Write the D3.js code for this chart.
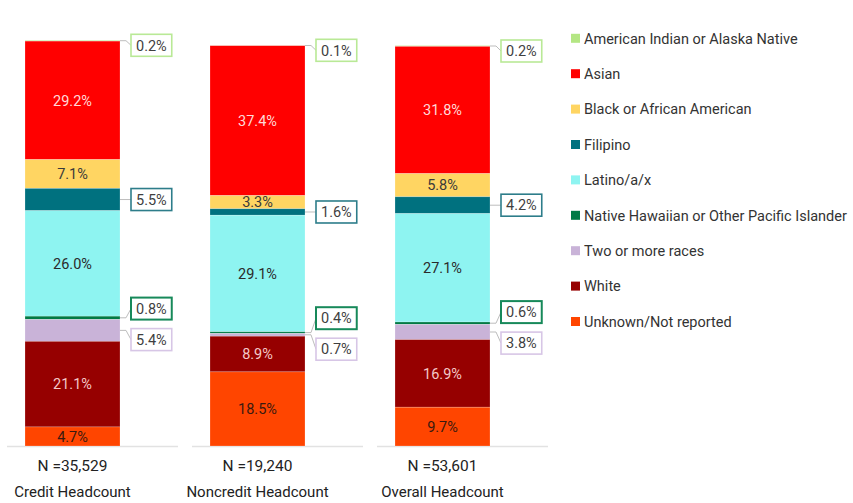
<!DOCTYPE html>
<html>
<head>
<meta charset="utf-8">
<script src="https://cdn.jsdelivr.net/npm/d3@7"></script>
<style>
  body { margin: 0; background: #fff; }
  svg { display: block; font-family: Roboto, "Noto Sans", sans-serif; }
</style>
</head>
<body>
<svg id="chart" width="853" height="503"></svg>
<script>
// bars, left to right
var categories = ["Credit Headcount", "Noncredit Headcount", "Overall Headcount"];
var headcounts = ["35,529", "19,240", "53,601"];

// race/ethnicity groups, top of the stack first
var groups = [
    "American Indian or Alaska Native",
    "Asian",
    "Black or African American",
    "Filipino",
    "Latino/a/x",
    "Native Hawaiian or Other Pacific Islander",
    "Two or more races",
    "White",
    "Unknown/Not reported"
];

// percentages, same order as groups
var creditPct    = [0.2, 29.2, 7.1, 5.5, 26.0, 0.8, 5.4, 21.1, 4.7];
var noncreditPct = [0.1, 37.4, 3.3, 1.6, 29.1, 0.4, 0.7, 8.9, 18.5];
var overallPct   = [0.2, 31.8, 5.8, 4.2, 27.1, 0.6, 3.8, 16.9, 9.7];
var seriesPct = [creditPct, noncreditPct, overallPct];

var colors = ["#b4e683", "#ff0000", "#ffd562", "#00717f", "#8ef4f1",
              "#007a45", "#c9b3d8", "#960000", "#ff4500"];
// groups that get a boxed callout instead of an inside label
var calloutBorder = {
    "American Indian or Alaska Native": "#b9e996",
    "Filipino": "#2d7d8a",
    "Native Hawaiian or Other Pacific Islander": "#17895a",
    "Two or more races": "#d7c6e6"
};
var insideText = {
    "Asian": "#ffd9d9",
    "Black or African American": "#3a3a3a",
    "Latino/a/x": "#2a2a2a",
    "White": "#f4c8c8",
    "Unknown/Not reported": "#3a1a10"
};

var FS = 14.5;
var svg = d3.select("#chart");
var BASE = 446;
var panelTop = [40.3, 45.3, 46]; // each bar was its own little chart

var x = d3.scaleBand()
    .domain(categories)
    .range([25, 490])
    .paddingInner(90 / 185);

categories.forEach(function(cat, ci) {
    var vals = seriesPct[ci];
    var y = d3.scaleLinear().domain([0, 100]).range([BASE, panelTop[ci]]);
    var x0 = x(cat), bw = x.bandwidth();

    // baseline
    svg.append("line")
        .attr("x1", x0 - 18).attr("x2", x0 + bw + 58)
        .attr("y1", BASE + 0.5).attr("y2", BASE + 0.5)
        .attr("stroke", "#e2e2e2").attr("stroke-width", 1.5);

    // stack from the bottom
    var segs = [];
    var cum = 0;
    for (var i = groups.length - 1; i >= 0; i--) {
        segs.unshift({group: groups[i], color: colors[i], v: vals[i], lo: cum, hi: cum + vals[i]});
        cum += vals[i];
    }

    var g = svg.append("g");
    g.selectAll("rect")
        .data(segs)
        .enter().append("rect")
        .attr("x", x0)
        .attr("width", bw)
        .attr("y", function(d) { return y(d.hi); })
        .attr("height", function(d) { return y(d.lo) - y(d.hi); })
        .attr("fill", function(d) { return d.color; })
        .attr("stroke", "rgba(255,255,255,0.35)")
        .attr("stroke-width", 0.6);

    g.selectAll("text.inside")
        .data(segs.filter(function(d) { return insideText[d.group]; }))
        .enter().append("text")
        .attr("class", "inside")
        .attr("x", x0 + bw / 2)
        .attr("y", function(d) { return (y(d.lo) + y(d.hi)) / 2; })
        .attr("dy", "0.36em")
        .attr("text-anchor", "middle")
        .attr("font-size", FS)
        .attr("fill", function(d) { return insideText[d.group]; })
        .text(function(d) { return d.v.toFixed(1) + "%"; });

    // callouts: start at segment middle, then push apart
    var items = segs.filter(function(d) { return calloutBorder[d.group]; })
        .map(function(d) { return {d: d, want: (y(d.lo) + y(d.hi)) / 2}; });
    var GAP = 31;
    var clusters = [];
    items.forEach(function(it) {
        var c = {items: [it], mean: it.want};
        c.start = c.mean;
        clusters.push(c);
        while (clusters.length > 1) {
            var a = clusters[clusters.length - 2], b = clusters[clusters.length - 1];
            if (a.start + a.items.length * GAP > b.start) {
                var merged = a.items.concat(b.items);
                var m = d3.mean(merged, function(q) { return q.want; });
                clusters.splice(-2, 2, {items: merged, mean: m, start: m - (merged.length - 1) * GAP / 2});
            } else break;
        }
    });
    var minY = panelTop[ci] + 5;
    clusters.forEach(function(c) {
        if (c.start < minY) c.start = minY;
        c.items.forEach(function(it, k) { it.at = c.start + k * GAP; });
    });

    var right = x0 + bw;
    items.forEach(function(it) {
        var label = it.d.v.toFixed(1) + "%";
        var bx = right + 11;
        var cg = svg.append("g");
        cg.append("path")
            .attr("d", "M" + right + "," + it.want + "H" + (right + 6) + "L" + bx + "," + it.at)
            .attr("fill", "none")
            .attr("stroke", "#bdbdbd")
            .attr("stroke-width", 1);
        var box = cg.append("rect")
            .attr("x", bx).attr("y", it.at - 11)
            .attr("height", 22)
            .attr("fill", "#fff")
            .attr("stroke", calloutBorder[it.d.group])
            .attr("stroke-width", it.d.group.indexOf("Hawaiian") >= 0 ? 2 : 1.6);
        var t = cg.append("text")
            .attr("x", bx + 5)
            .attr("y", it.at)
            .attr("dy", "0.36em")
            .attr("font-size", FS)
            .attr("fill", "#3f3f3f")
            .text(label);
        box.attr("width", t.node().getComputedTextLength() + 10);
    });

    // N and category label
    svg.append("text")
        .attr("x", x0 + bw / 2).attr("y", 471)
        .attr("text-anchor", "middle")
        .attr("font-size", 15.5)
        .attr("fill", "#222")
        .text("N =" + headcounts[ci]);
    svg.append("text")
        .attr("x", x0 + bw / 2).attr("y", 497)
        .attr("text-anchor", "middle")
        .attr("font-size", 15)
        .attr("fill", "#222")
        .text(cat);
});

// legend
var ly = d3.scalePoint().domain(groups).range([38.3, 38.3 + 8 * 35.4]);
var legend = svg.append("g")
    .selectAll("g")
    .data(groups)
    .enter().append("g")
    .attr("transform", function(d) { return "translate(571," + ly(d) + ")"; });
legend.append("rect")
    .attr("x", 0).attr("y", -4.5)
    .attr("width", 9).attr("height", 9)
    .attr("fill", function(d, i) { return colors[i]; });
legend.append("text")
    .attr("x", 13).attr("dy", "0.36em")
    .attr("font-size", FS)
    .attr("fill", "#333")
    .text(function(d) { return d; });
</script>
</body>
</html>
